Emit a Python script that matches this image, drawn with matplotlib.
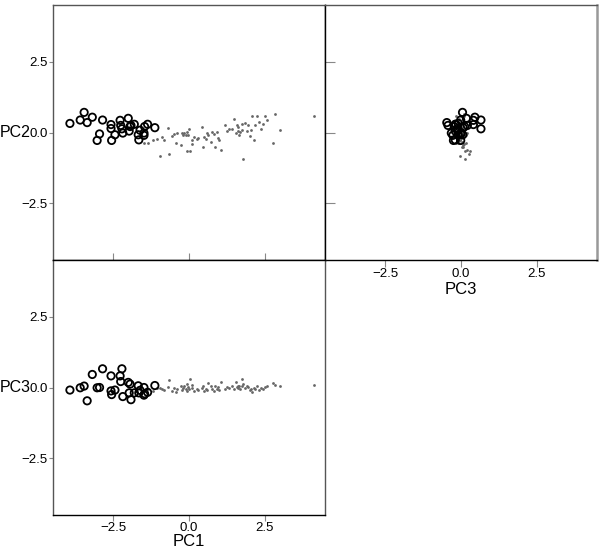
import matplotlib.pyplot as plt

plt.rcParams.update({
    "font.family": ["Liberation Sans", "DejaVu Sans"],
    "font.size": 9.5,
})

# group A (open circles): PC1, PC2, PC3
a_pc1 = [-3.94, -3.60, -3.47, -3.37, -3.20, -3.04, -2.96, -2.86, -2.58, -2.58,
         -2.56, -2.45, -2.28, -2.26, -2.22, -2.19, -2.01, -1.95, -1.98, -1.92,
         -1.81, -1.68, -1.66, -1.62, -1.49, -1.49, -1.47, -1.37, -1.13]
a_pc2 = [0.32, 0.44, 0.71, 0.35, 0.54, -0.28, -0.05, 0.44, 0.28, 0.14,
         -0.28, -0.08, 0.43, 0.25, 0.13, -0.02, 0.50, 0.21, 0.05, 0.25,
         0.29, -0.08, -0.26, 0.08, -0.02, -0.10, 0.21, 0.29, 0.17]
a_pc3 = [-0.09, -0.01, 0.05, -0.47, 0.46, -0.01, 0.00, 0.66, 0.41, -0.12,
         -0.25, -0.09, 0.41, 0.21, 0.66, -0.32, 0.18, 0.12, -0.19, -0.43,
         -0.19, 0.06, -0.19, -0.10, 0.00, -0.27, -0.22, -0.17, 0.07]

# group B (small grey dots): PC1, PC2, PC3
b_pc1 = [-1.48, -1.35, -1.20, -1.05, -0.96, -0.89, -0.82, -0.68, -0.65, -0.57,
         -0.50, -0.43, -0.41, -0.28, -0.24, -0.21, -0.15, -0.11, -0.08, -0.06,
         -0.02, 0.01, 0.03, 0.09, 0.11, 0.17, 0.25, 0.31, 0.42, 0.45,
         0.50, 0.55, 0.59, 0.64, 0.73, 0.77, 0.82, 0.86, 0.92, 0.97,
         1.00, 1.06, 1.19, 1.25, 1.32, 1.41, 1.49, 1.55, 1.58, 1.61,
         1.63, 1.66, 1.69, 1.75, 1.76, 1.80, 1.85, 1.91, 1.96, 2.02,
         2.05, 2.10, 2.15, 2.19, 2.26, 2.30, 2.38, 2.46, 2.52, 2.57,
         2.79, 2.83, 3.01, 4.12]
b_pc2 = [-0.37, -0.38, -0.26, -0.24, -0.84, -0.17, -0.26, 0.17, -0.76, -0.11,
         -0.07, -0.38, -0.01, -0.43, -0.01, -0.08, -0.01, -0.08, -0.64, 0.02,
         -0.08, 0.13, -0.64, -0.28, -0.40, -0.17, -0.22, -0.19, 0.19, -0.50,
         -0.17, -0.22, -0.01, -0.08, -0.34, 0.01, -0.05, -0.50, 0.01, -0.19,
         -0.28, -0.61, 0.25, 0.07, 0.11, 0.13, 0.49, -0.02, 0.25, 0.19,
         0.05, -0.08, 0.01, 0.31, 0.10, -0.93, 0.33, 0.05, 0.25, -0.11,
         0.10, 0.57, -0.28, 0.25, 0.60, 0.37, 0.13, 0.31, 0.57, 0.43,
         -0.38, 0.64, 0.10, 0.60]
b_pc3 = [-0.09, -0.05, -0.11, -0.03, -0.02, -0.07, -0.10, 0.02, 0.25, -0.11,
         -0.02, -0.17, -0.05, 0.07, -0.09, -0.02, 0.07, -0.05, 0.12, -0.11,
         0.01, -0.05, 0.30, -0.02, 0.10, -0.11, -0.05, -0.09, -0.02, 0.04,
         -0.11, -0.05, -0.09, 0.15, 0.04, -0.05, -0.11, 0.07, -0.05, 0.01,
         -0.09, 0.19, -0.05, 0.01, -0.02, 0.04, -0.07, 0.19, 0.01, 0.07,
         -0.02, 0.04, -0.05, 0.31, 0.04, 0.12, -0.02, 0.04, 0.01, -0.09,
         -0.05, -0.17, -0.02, -0.05, 0.04, -0.09, -0.02, -0.07, 0.01, 0.04,
         0.15, 0.09, 0.07, 0.09]

ticks = [-2.5, 0.0, 2.5]
tick_labels = ["\u22122.5", "0.0", "2.5"]
lim = (-4.5, 4.5)

W, H = 600, 548
fig = plt.figure(figsize=(W / 100, H / 100), dpi=100)


def panel(x0, y0, x1, y1):
    return fig.add_axes([x0 / W, 1 - y1 / H, (x1 - x0) / W, (y1 - y0) / H])


ax_tl = panel(53, 5, 325, 260)
ax_tr = panel(325, 5, 597, 260)
ax_bl = panel(53, 260, 325, 515)


def draw(ax, xa, ya, xb, yb):
    ax.scatter(xb, yb, s=4, marker="o", color="#666666", linewidths=0, zorder=2)
    ax.scatter(xa, ya, s=28, facecolors="none", edgecolors="black",
               linewidths=1.3, zorder=3)
    ax.set_xlim(lim)
    ax.set_ylim(lim)
    ax.set_xticks(ticks)
    ax.set_yticks(ticks)
    for sp in ax.spines.values():
        sp.set_color("#555555")
        sp.set_linewidth(1.0)
    ax.tick_params(colors="#888888", labelcolor="black", width=0.8,
                   labelsize=9.5, pad=1)


draw(ax_tl, a_pc1, a_pc2, b_pc1, b_pc2)
draw(ax_tr, a_pc3, a_pc2, b_pc3, b_pc2)
draw(ax_bl, a_pc1, a_pc3, b_pc1, b_pc3)

# top-left: PC2 vs PC1
ax_tl.set_yticklabels(tick_labels)
ax_tl.tick_params(axis="y", left=True, right=True, direction="out", length=3)
ax_tl.tick_params(axis="x", bottom=True, labelbottom=False, direction="in", length=5)
ax_tl.spines["right"].set_color("black")
ax_tl.spines["bottom"].set_color("black")
ax_tl.set_ylabel("PC2", rotation=0, ha="right", va="center", fontsize=11.5)
ax_tl.yaxis.set_label_coords(-0.082, 0.5)

# top-right: PC2 vs PC3
ax_tr.tick_params(axis="y", left=True, labelleft=False, direction="in", length=7)
ax_tr.tick_params(axis="x", direction="out", length=5)
ax_tr.set_xticklabels(tick_labels)
ax_tr.spines["left"].set_color("black")
ax_tr.spines["bottom"].set_color("black")
ax_tr.spines["right"].set_color("#999999")
ax_tr.spines["right"].set_linewidth(1.8)
ax_tr.set_xlabel("PC3", fontsize=12, labelpad=1)

# bottom-left: PC3 vs PC1
ax_bl.set_yticklabels(tick_labels)
ax_bl.set_xticklabels(tick_labels)
ax_bl.tick_params(axis="y", direction="out", length=3)
ax_bl.tick_params(axis="x", direction="out", length=4)
ax_bl.spines["top"].set_color("black")
ax_bl.spines["bottom"].set_color("black")
ax_bl.set_xlabel("PC1", fontsize=12, labelpad=0)
ax_bl.set_ylabel("PC3", rotation=0, ha="right", va="center", fontsize=11.5)
ax_bl.yaxis.set_label_coords(-0.082, 0.5)

fig.savefig("out.png", dpi=100, facecolor="white")
plt.close(fig)
